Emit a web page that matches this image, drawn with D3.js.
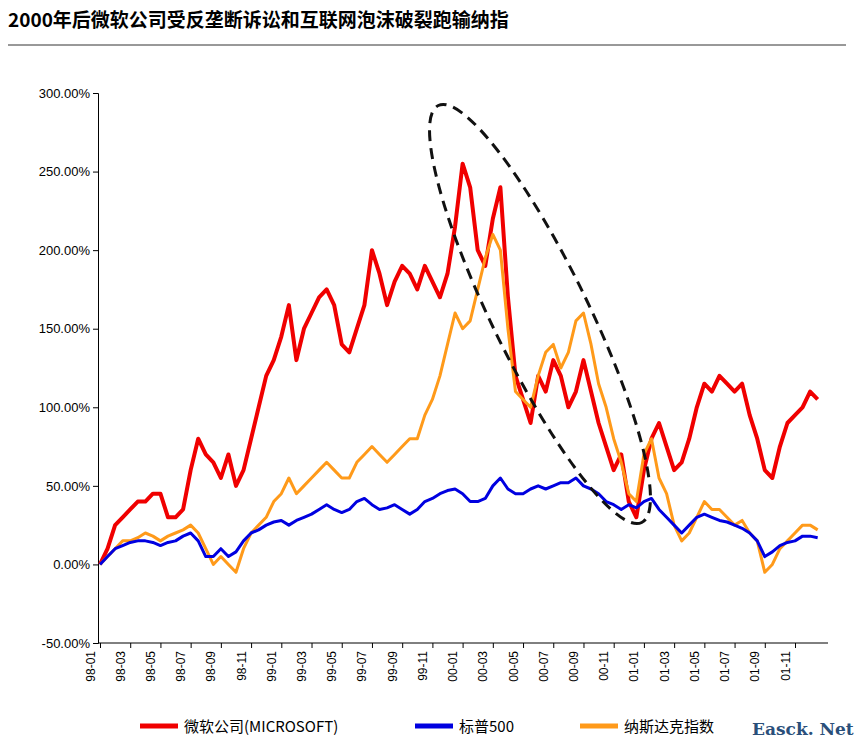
<!DOCTYPE html>
<html><head><meta charset="utf-8">
<script src="https://cdn.jsdelivr.net/npm/d3@7"></script>
<style>body{margin:0;background:#fff;font-family:"Noto Sans CJK SC","Liberation Sans",sans-serif;}</style>
</head><body><svg id="c" width="854" height="746"></svg>
<script>
// two readings per month, 98-01 .. 01-12
var msft = [0,10,25,30,35,40,40,45,45,30,30,35,60,80,70,65,55,70,50,60,80,100,120,130,145,165,130,150,160,170,175,165,140,135,150,165,200,185,165,180,190,185,175,190,180,170,185,215,255,240,200,190,220,240,170,120,105,90,120,110,130,120,100,110,130,110,90,75,60,70,40,30,60,80,90,75,60,65,80,100,115,110,120,115,110,115,95,80,60,55,75,90,95,100,110,105];
var nasdaq = [0,5,10,15,15,17,20,18,15,18,20,22,25,20,10,0,5,0,-5,10,20,25,30,40,45,55,45,50,55,60,65,60,55,55,65,70,75,70,65,70,75,80,80,95,105,120,140,160,150,155,175,195,210,200,150,110,105,100,120,135,140,125,135,155,160,140,115,100,80,65,45,40,70,80,55,45,25,15,20,30,40,35,35,30,25,28,20,15,-5,0,10,15,20,25,25,22];
var sp500 = [0,5,10,12,14,15,15,14,12,14,15,18,20,15,5,5,10,5,8,15,20,22,25,27,28,25,28,30,32,35,38,35,33,35,40,42,38,35,36,38,35,32,35,40,42,45,47,48,45,40,40,42,50,55,48,45,45,48,50,48,50,52,52,55,50,48,45,40,38,35,38,36,40,42,35,30,25,20,25,30,32,30,28,27,25,23,20,15,5,8,12,14,15,18,18,17];
var yTicks = [-50,0,50,100,150,200,250,300];
var xLabels = [];
["98","99","00","01"].forEach(function(y){ ["01","03","05","07","09","11"].forEach(function(m){ xLabels.push(y+"-"+m); }); });
var series = [
  {name:"微软公司(MICROSOFT)", color:"#f00000", values:msft},
  {name:"标普500", color:"#0000e0", values:sp500},
  {name:"纳斯达克指数", color:"#ff9a1a", values:nasdaq}
];

var svg = d3.select("#c");
var x = d3.scaleLinear().domain([0,46]).range([100,795]);
var y = d3.scaleLinear().domain([-50,300]).range([643,93]);

svg.append("text").attr("x",8).attr("y",27).attr("font-size",19).attr("font-weight","bold").text("2000年后微软公司受反垄断诉讼和互联网泡沫破裂跑输纳指");
svg.append("line").attr("x1",8).attr("x2",846).attr("y1",45).attr("y2",45).attr("stroke","#333").attr("stroke-width",1);

var ya = svg.append("g").attr("transform","translate(98,0)")
  .call(d3.axisLeft(y).tickValues(yTicks).tickSize(5).tickFormat(function(d){ return d.toFixed(2)+"%"; }));
ya.selectAll("text").attr("font-size",13).attr("font-family","Liberation Sans, Arial").attr("fill","#000");
ya.select(".domain").attr("stroke","#000");

var xa = svg.append("g").attr("transform","translate(0,643)")
  .call(d3.axisBottom(x).tickValues(d3.range(0,47,2)).tickSize(5).tickFormat(function(d,i){ return xLabels[i]; }));
xa.select(".domain").attr("d","M98,0H828");
xa.selectAll("text").attr("font-size",12).attr("font-family","Liberation Sans, Arial").attr("fill","#000")
  .attr("transform","rotate(-90)").attr("text-anchor","end").attr("dx","-8").attr("dy","-0.5em").attr("x",0).attr("y",0);

var line = d3.line().x(function(d,i){ return x(i/2); }).y(function(d){ return y(d); });
[0,2,1].forEach(function(k){
  var s = series[k];
  svg.append("path").attr("d",line(s.values)).attr("fill","none").attr("stroke",s.color)
    .attr("stroke-width",k==0?4:3).attr("stroke-linejoin","round");
});

// dashed ellipse annotation
svg.append("ellipse").attr("cx",540).attr("cy",314).attr("rx",232).attr("ry",48)
  .attr("transform","rotate(64 540 314)").attr("fill","none").attr("stroke","#111")
  .attr("stroke-width",3).attr("stroke-dasharray","11,7");

var lg = svg.append("g").attr("transform","translate(140,726)");
var offs = [0,275,440];
series.forEach(function(s,i){
  var g = lg.append("g").attr("transform","translate("+offs[i]+",0)");
  g.append("line").attr("x1",0).attr("x2",38).attr("stroke",s.color).attr("stroke-width",5);
  g.append("text").attr("x",44).attr("y",6).attr("font-size",15).text(s.name);
});
svg.append("text").attr("x",752).attr("y",735).attr("font-size",17).attr("font-weight","bold")
  .attr("font-family","DejaVu Serif, serif").attr("fill","#2a4f7a").text("Easck. Net");
</script></body></html>
